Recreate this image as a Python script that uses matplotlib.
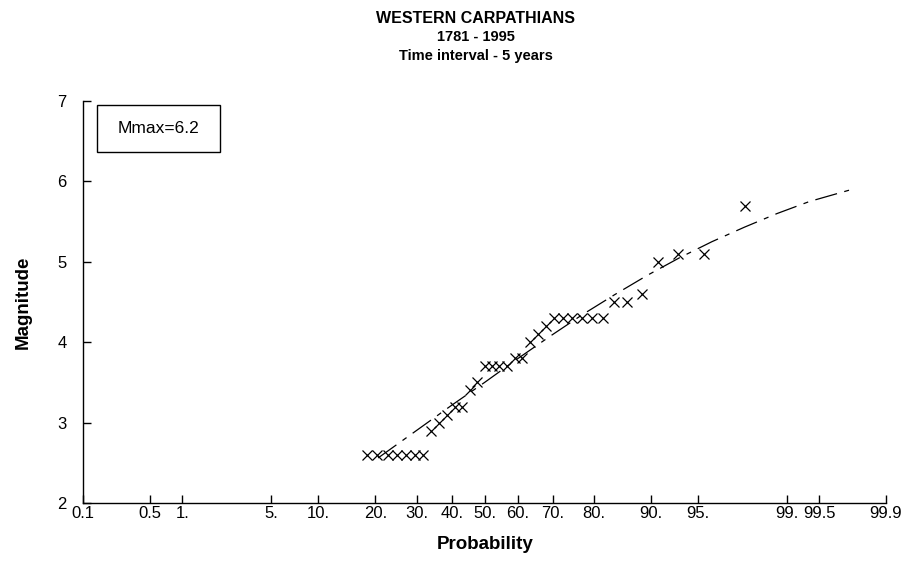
import numpy as np
import matplotlib
matplotlib.use("Agg")
import matplotlib.pyplot as plt
from matplotlib.patches import Rectangle
from statistics import NormalDist

# observed maximum magnitudes, sorted, with their plotting positions (%)
prob = [18.18, 20.45, 22.73, 25.00, 27.27, 29.55, 31.82, 34.09, 36.36,
        38.64, 40.91, 43.18, 45.45, 47.73, 50.00, 52.27, 54.55, 56.82,
        59.09, 61.36, 63.64, 65.91, 68.18, 70.45, 72.73, 75.00, 77.27,
        79.55, 81.82, 84.09, 86.36, 88.64, 90.91, 93.18, 95.45, 97.73]
mag = [2.6, 2.6, 2.6, 2.6, 2.6, 2.6, 2.6, 2.9, 3.0,
       3.1, 3.2, 3.2, 3.4, 3.5, 3.7, 3.7, 3.7, 3.7,
       3.8, 3.8, 4.0, 4.1, 4.2, 4.3, 4.3, 4.3, 4.3,
       4.3, 4.3, 4.5, 4.5, 4.6, 5.0, 5.1, 5.1, 5.7]

# fitted distribution curve
fit_prob = [20.6, 30.85, 40.13, 50.0, 59.87, 69.15, 77.34, 84.13,
            89.44, 93.32, 95.99, 97.72, 98.78, 99.38, 99.78]
fit_mag = [2.56, 2.93, 3.22, 3.50, 3.79, 4.07, 4.34, 4.59,
           4.83, 5.05, 5.25, 5.43, 5.60, 5.75, 5.91]

xticks = [0.1, 0.5, 1, 5, 10, 20, 30, 40, 50, 60, 70, 80, 90, 95, 99, 99.5, 99.9]
xlabels = ['0.1', '0.5', '1.', '5.', '10.', '20.', '30.', '40.', '50.', '60.',
           '70.', '80.', '90.', '95.', '99.', '99.5', '99.9']
yticks = [2, 3, 4, 5, 6, 7]

nd = NormalDist()
_ppf = np.vectorize(lambda p: nd.inv_cdf(min(max(p, 1e-6), 100 - 1e-6) / 100.0),
                    otypes=[float])
_cdf = np.vectorize(lambda z: 100.0 * nd.cdf(z), otypes=[float])

def fwd(p):
    return _ppf(np.asarray(p, dtype=float))

def inv(z):
    return _cdf(np.asarray(z, dtype=float))

plt.rcParams['font.family'] = ['Liberation Sans', 'DejaVu Sans']

fig = plt.figure(figsize=(9.11, 5.64), dpi=100, facecolor='white')
ax = fig.add_axes([0.0914, 0.1082, 0.8812, 0.7127])
ax.set_xscale('function', functions=(fwd, inv))

ax.plot(fit_prob, fit_mag, color='black', lw=0.9, linestyle=(0, (18, 6, 4, 6)))
ax.plot(prob, mag, linestyle='none', marker='x', color='black', ms=7, mew=0.9)

ax.set_xlim(0.1, 99.9)
ax.set_ylim(2, 7)
ax.set_xticks(xticks)
ax.set_xticklabels(xlabels)
ax.xaxis.set_minor_locator(matplotlib.ticker.NullLocator())
ax.set_yticks(yticks)
ax.tick_params(direction='in', length=6, width=1, labelsize=12, colors='black')
ax.tick_params(axis='x', pad=2)
ax.tick_params(axis='y', pad=12)
for s in ['top', 'right']:
    ax.spines[s].set_visible(False)
for s in ['left', 'bottom']:
    ax.spines[s].set_linewidth(1.0)

ax.set_xlabel('Probability', fontsize=13.5, fontweight='bold', labelpad=11)
ax.set_ylabel('Magnitude', fontsize=13.5, fontweight='bold', labelpad=18)

# Mmax box
ax.add_patch(Rectangle((0.017, 0.873), 0.153, 0.117, transform=ax.transAxes,
                       fill=False, edgecolor='black', lw=1))
ax.text(0.0935, 0.9315, 'Mmax=6.2', transform=ax.transAxes, ha='center',
        va='center', fontsize=12.5)

fig.text(0.5225, 0.968, 'WESTERN CARPATHIANS', ha='center', va='center',
         fontsize=11.5, fontweight='bold')
fig.text(0.5225, 0.934, '1781 - 1995', ha='center', va='center',
         fontsize=10.5, fontweight='bold')
fig.text(0.5225, 0.900, 'Time interval - 5 years', ha='center', va='center',
         fontsize=10.5, fontweight='bold')

fig.savefig('out.png', dpi=100, facecolor='white')
